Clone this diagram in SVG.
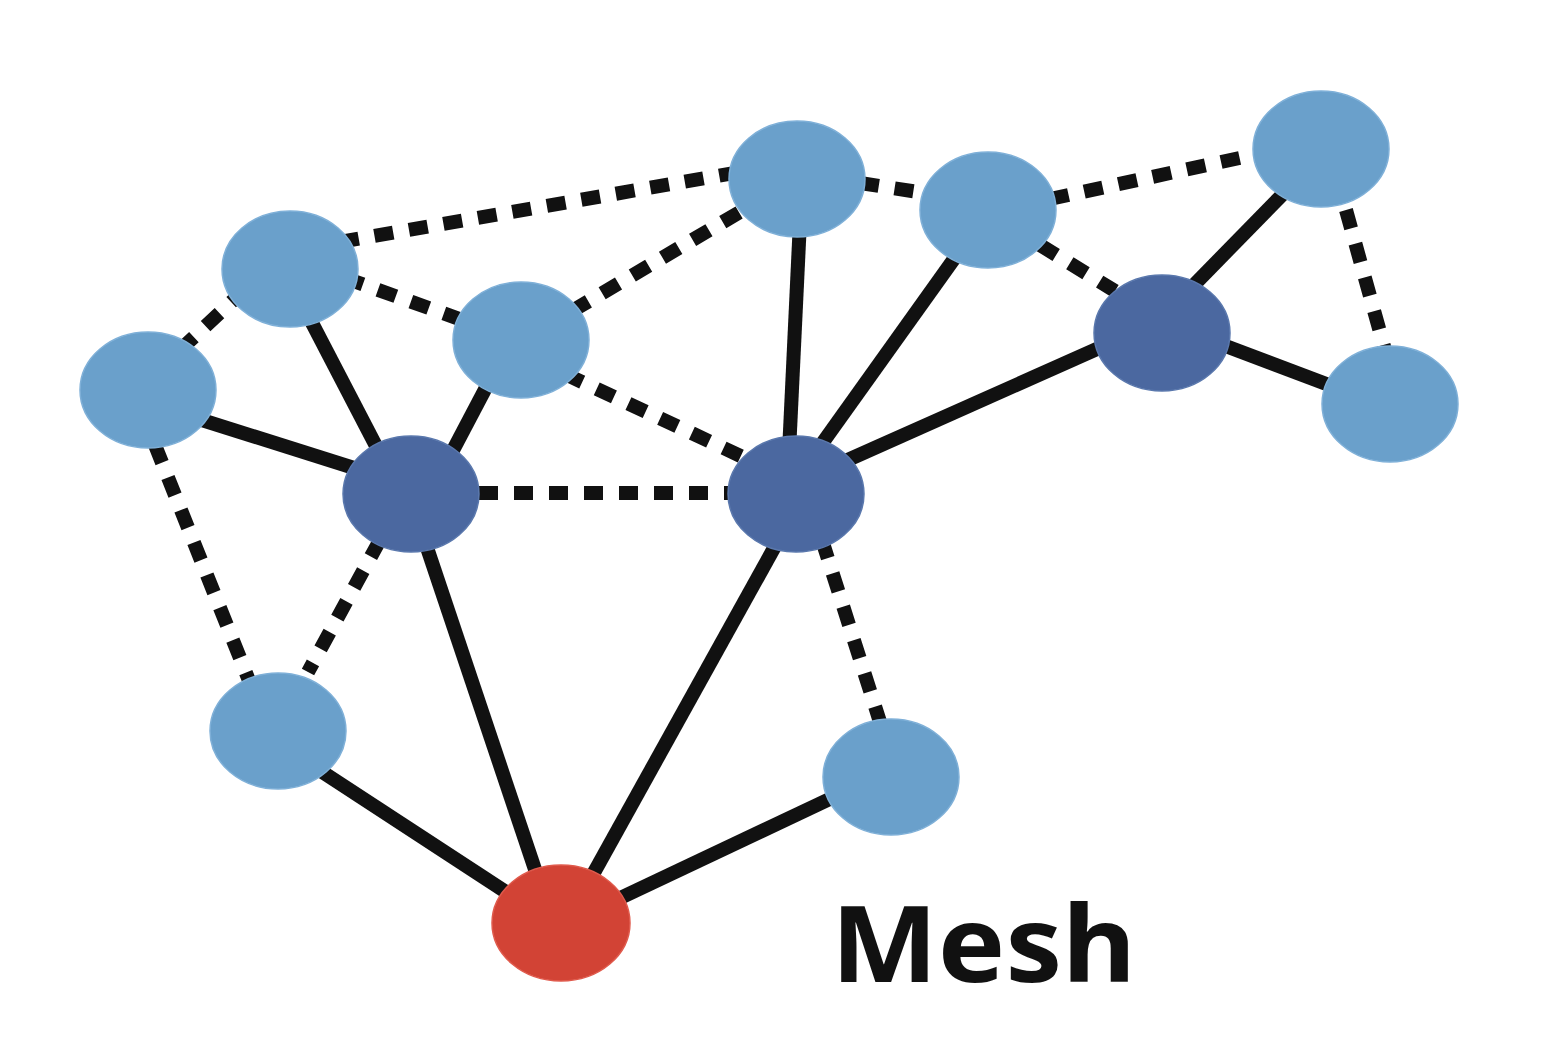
<svg xmlns="http://www.w3.org/2000/svg" width="1550" height="1040" viewBox="0 0 1550 1040">
<style>
.solid{stroke:#111;stroke-width:14;fill:none;stroke-linecap:butt}
.dash{stroke:#111;stroke-width:14;fill:none;stroke-dasharray:19 16}
.light{fill:#6aa0cb;stroke:#7fb0d8;stroke-width:1.5}
.dark{fill:#4b68a0;stroke:#5a78ad;stroke-width:1.5}
.red{fill:#d24335;stroke:#e05a4c;stroke-width:1.5}
.label{font-family:"Noto Sans","Open Sans","Liberation Sans",sans-serif;font-weight:700;font-size:106px;fill:#111}
</style>
<rect width="1550" height="1040" fill="#fff"/>
<g id="connectors">
<line class="solid" x1="284" y1="269" x2="401" y2="494"/>
<line class="solid" x1="148" y1="403" x2="411" y2="486"/>
<line class="solid" x1="511" y1="340" x2="430" y2="494"/>
<line class="solid" x1="409" y1="494" x2="553" y2="923"/>
<line class="solid" x1="278" y1="743" x2="561" y2="928"/>
<line class="solid" x1="804" y1="494" x2="566" y2="923"/>
<line class="solid" x1="891" y1="770" x2="561" y2="926"/>
<line class="solid" x1="802" y1="179" x2="787" y2="494"/>
<line class="solid" x1="989" y1="210" x2="786" y2="494"/>
<line class="solid" x1="1162" y1="320" x2="796" y2="483"/>
<line class="solid" x1="1327" y1="149" x2="1147" y2="333"/>
<line class="solid" x1="1162" y1="322" x2="1390" y2="408"/>
<line class="dash" x1="340" y1="242" x2="740" y2="172"/>
<line class="dash" x1="345" y1="278" x2="465" y2="321"/>
<line class="dash" x1="180" y1="350" x2="240" y2="294"/>
<line class="dash" x1="572" y1="311" x2="745" y2="209"/>
<line class="dash" x1="565" y1="374" x2="745" y2="458"/>
<line class="dash" x1="479" y1="493" x2="728" y2="493"/>
<line class="dash" x1="155" y1="445" x2="250" y2="683"/>
<line class="dash" x1="380" y1="540" x2="308" y2="672"/>
<line class="dash" x1="822" y1="540" x2="880" y2="722"/>
<line class="dash" x1="860" y1="183" x2="925" y2="193"/>
<line class="dash" x1="1050" y1="199" x2="1258" y2="154"/>
<line class="dash" x1="1040" y1="245" x2="1115" y2="291"/>
<line class="dash" x1="1346" y1="210" x2="1385" y2="350"/>
</g>
<g id="n1"><ellipse class="light" cx="290" cy="269" rx="68" ry="58"/></g>
<g id="n2"><ellipse class="light" cx="148" cy="390" rx="68" ry="58"/></g>
<g id="n3"><ellipse class="light" cx="521" cy="340" rx="68" ry="58"/></g>
<g id="n4"><ellipse class="light" cx="797" cy="179" rx="68" ry="58"/></g>
<g id="n5"><ellipse class="light" cx="988" cy="210" rx="68" ry="58"/></g>
<g id="n6"><ellipse class="light" cx="1321" cy="149" rx="68" ry="58"/></g>
<g id="n7"><ellipse class="light" cx="1390" cy="404" rx="68" ry="58"/></g>
<g id="n8"><ellipse class="light" cx="278" cy="731" rx="68" ry="58"/></g>
<g id="n9"><ellipse class="light" cx="891" cy="777" rx="68" ry="58"/></g>
<g id="n10"><ellipse class="dark" cx="411" cy="494" rx="68" ry="58"/></g>
<g id="n11"><ellipse class="dark" cx="796" cy="494" rx="68" ry="58"/></g>
<g id="n12"><ellipse class="dark" cx="1162" cy="333" rx="68" ry="58"/></g>
<g id="root"><ellipse class="red" cx="561" cy="923" rx="69" ry="58"/></g>
<g id="title"><text class="label" x="831" y="982" textLength="305" lengthAdjust="spacingAndGlyphs">Mesh</text></g>
</svg>
